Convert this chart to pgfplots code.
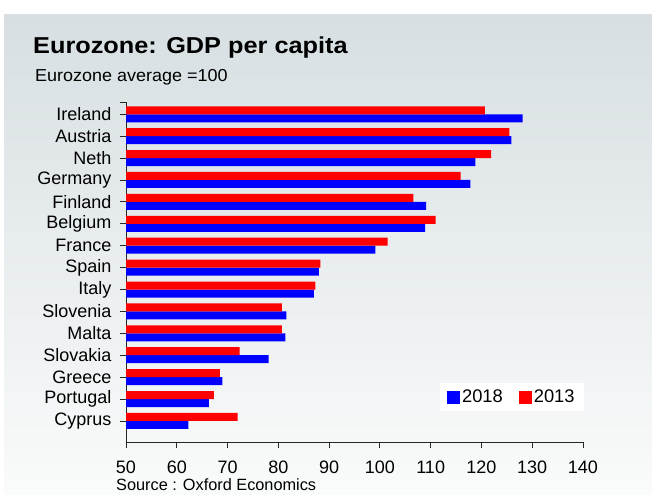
\documentclass[border=0pt]{standalone}
\usepackage{pgfplots}
\pgfplotsset{compat=1.18}
\usepackage{fontspec}
\setmainfont{Liberation Sans}
\definecolor{paneltop}{HTML}{D7DFE2}
\definecolor{panelbot}{HTML}{FAFBFB}
\begin{document}
\begin{tikzpicture}
\fill[white] (0,0) rectangle (652bp,495bp);
\shade[top color=paneltop, bottom color=panelbot] (4bp,0bp) rectangle (652bp,480bp);
\node[anchor=base west, font=\fontsize{23bp}{26bp}\selectfont\bfseries, inner sep=0pt] at (33bp,441.7bp) {\scalebox{1.1}[1]{Eurozone: GDP per capita}};
\node[anchor=base west, font=\fontsize{17.3bp}{20bp}\selectfont, inner sep=0pt] at (35bp,413.3bp) {\scalebox{1.04}[1]{Eurozone average =100}};
\node[anchor=base west, font=\fontsize{16.3bp}{19bp}\selectfont, inner sep=0pt] at (116bp,5bp) {Source : Oxford Economics};
\begin{axis}[
  at={(126bp,53bp)}, anchor=south west,
  width=457bp, height=340bp, scale only axis,
  xbar, bar width=8bp,
  xmin=50, xmax=140, ymin=-0.96, ymax=14.56,
  xtick={50,60,...,140},
  ytick={0,...,14},
  yticklabels={Cyprus,Portugal,Greece,Slovakia,Malta,Slovenia,Italy,Spain,France,Belgium,Finland,Germany,Neth,Austria,Ireland},
  extra y ticks={14.56}, extra y tick labels={},
  axis lines*=left,
  x axis line style={-}, y axis line style={-},
  axis line style={black!85, line width=0.9bp},
  tick align=outside, major tick length=6bp,
  tick style={black!85, line width=0.9bp},
  /pgf/number format/assume math mode=true,
  ticklabel style={font=\fontsize{18bp}{20bp}\selectfont},
  xticklabel style={yshift=-9bp},
  yticklabel style={xshift=-5bp},
  legend style={at={(0.687,0.1735)}, anchor=north west, fill=white, draw=none,
    font=\fontsize{18.3bp}{20bp}\selectfont, inner xsep=7bp, inner ysep=5bp,
    /tikz/every even column/.append style={column sep=14bp}},
  legend columns=2,
]
\addplot[fill=blue, draw=none, bar shift=-4bp,
  legend image code/.code={\fill[blue] (0bp,-6.5bp) rectangle (13bp,6.5bp);}]
  coordinates {(62.3,0) (66.3,1) (69.0,2) (78.1,3) (81.4,4) (81.6,5) (87.0,6) (88.0,7) (99.1,8) (108.9,9) (109.1,10) (117.8,11) (118.8,12) (125.9,13) (128.1,14)};
\addplot[fill=red, draw=none, bar shift=4bp,
  legend image code/.code={\fill[red] (0bp,-6.5bp) rectangle (13bp,6.5bp);}]
  coordinates {(72.0,0) (67.3,1) (68.5,2) (72.4,3) (80.7,4) (80.7,5) (87.3,6) (88.3,7) (101.5,8) (111.0,9) (106.6,10) (115.9,11) (121.9,12) (125.5,13) (120.7,14)};
\legend{2018,2013}
\end{axis}
\pgfresetboundingbox
\useasboundingbox (0,0) rectangle (652bp,495bp);
\end{tikzpicture}
\end{document}
